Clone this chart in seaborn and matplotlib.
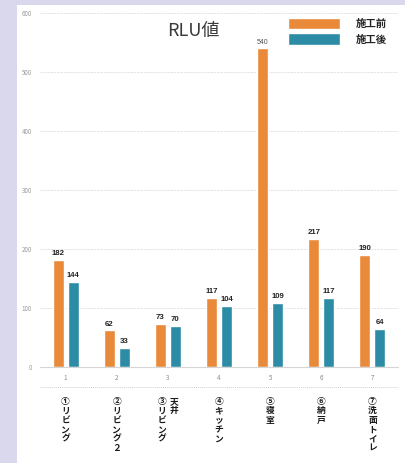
import matplotlib
matplotlib.use("Agg")
import matplotlib.pyplot as plt
import seaborn as sns
import pandas as pd
from matplotlib.patches import Rectangle

# Chart data
categories = ["1", "2", "3", "4", "5", "6", "7"]
before = [182, 62, 73, 117, 540, 217, 190]
after = [144, 33, 70, 104, 109, 117, 64]
series = ["施工前", "施工後"]
room_names = [["①リビング"], ["②リビング２"], ["③リビング", "天井"], ["④キッチン"],
              ["⑤寝室"], ["⑥納戸"], ["⑦洗面トイレ"]]
y_ticks = [0, 100, 200, 300, 400, 500, 600]

ORANGE = "#E98A3A"
BLUE = "#2C8CA6"

df = pd.DataFrame({
    "cat": categories * 2,
    "val": before + after,
    "series": [series[0]] * len(categories) + [series[1]] * len(categories),
})

sns.set_theme(style="white")
plt.rcParams["font.family"] = ["Noto Sans CJK JP", "DejaVu Sans"]

W, H = 406, 463
fig = plt.figure(figsize=(W / 100, H / 100), dpi=100)
fig.patch.set_facecolor("#D9D8EC")
fig.patches.append(Rectangle((17 / W, 0), 1, (H - 5) / H, transform=fig.transFigure,
                             facecolor="white", edgecolor="none", zorder=-1))

ax = fig.add_axes([40 / W, 1 - 367 / H, 358 / W, (367 - 13) / H])
ax.patch.set_alpha(0)

sns.barplot(data=df, x="cat", y="val", hue="series", palette=[ORANGE, BLUE],
            width=0.59, gap=0.27, saturation=1, ax=ax)

for cont in ax.containers:
    labels = ax.bar_label(cont, padding=2, fontsize=5.6, fontweight="bold",
                          color="#222222", family=["Liberation Sans"])
    for t in labels:
        if t.get_text() == "540":
            t.set_fontweight("normal")
            t.set_color("#555555")
            t.set_fontsize(5)

ax.set_ylim(0, 600)
ax.set_xlim(-0.5, 6.5)
ax.set_yticks(y_ticks)
ax.set_xlabel("")
ax.set_ylabel("")
ax.set_axisbelow(True)
ax.yaxis.grid(True, color="#E0E0E0", linewidth=0.6, linestyle=(0, (3, 1)))
for side in ["left", "right", "top"]:
    ax.spines[side].set_visible(False)
ax.spines["bottom"].set_color("#D5D5D5")
ax.spines["bottom"].set_linewidth(0.8)
ax.tick_params(axis="y", length=0, pad=6, labelsize=4.5, labelcolor="#9A9A9A")
ax.tick_params(axis="x", length=0, pad=5, labelsize=4.5, labelcolor="#8A8A8A")

# dotted separator between tick numbers and room names
ax.plot([0, 1], [-0.057, -0.057], transform=ax.transAxes, clip_on=False,
        color="#CFCFCF", linewidth=0.7, linestyle=(0, (1, 1)))

# room names, stacked vertically character by character
for i, cols in enumerate(room_names):
    n = len(cols)
    for j, col in enumerate(cols):
        dx = (j - (n - 1) / 2) * 8.5 if n > 1 else 0
        for k, ch in enumerate(col):
            ax.annotate(ch, xy=(i, 0), xycoords=("data", "axes fraction"),
                        xytext=(dx, -21.5 - k * 6.8), textcoords="offset points",
                        ha="center", va="top", fontsize=6.3, fontweight="bold",
                        color="#1A1A1A", annotation_clip=False)

fig.text(193 / W, 1 - 31 / H, "RLU値", ha="center", va="center",
         fontsize=13, color="#3A3A3A")

sns.move_legend(ax, "upper left", bbox_to_anchor=(288 / W, 1 - 18 / H),
                bbox_transform=fig.transFigure, frameon=False, title=None,
                handlelength=5.0, handleheight=1.25, labelspacing=0.43,
                handletextpad=1.5, borderpad=0, borderaxespad=0, fontsize=7.5)
for t in ax.get_legend().get_texts():
    t.set_fontweight("bold")
    t.set_color("#222222")

fig.savefig("out.png", dpi=100)
